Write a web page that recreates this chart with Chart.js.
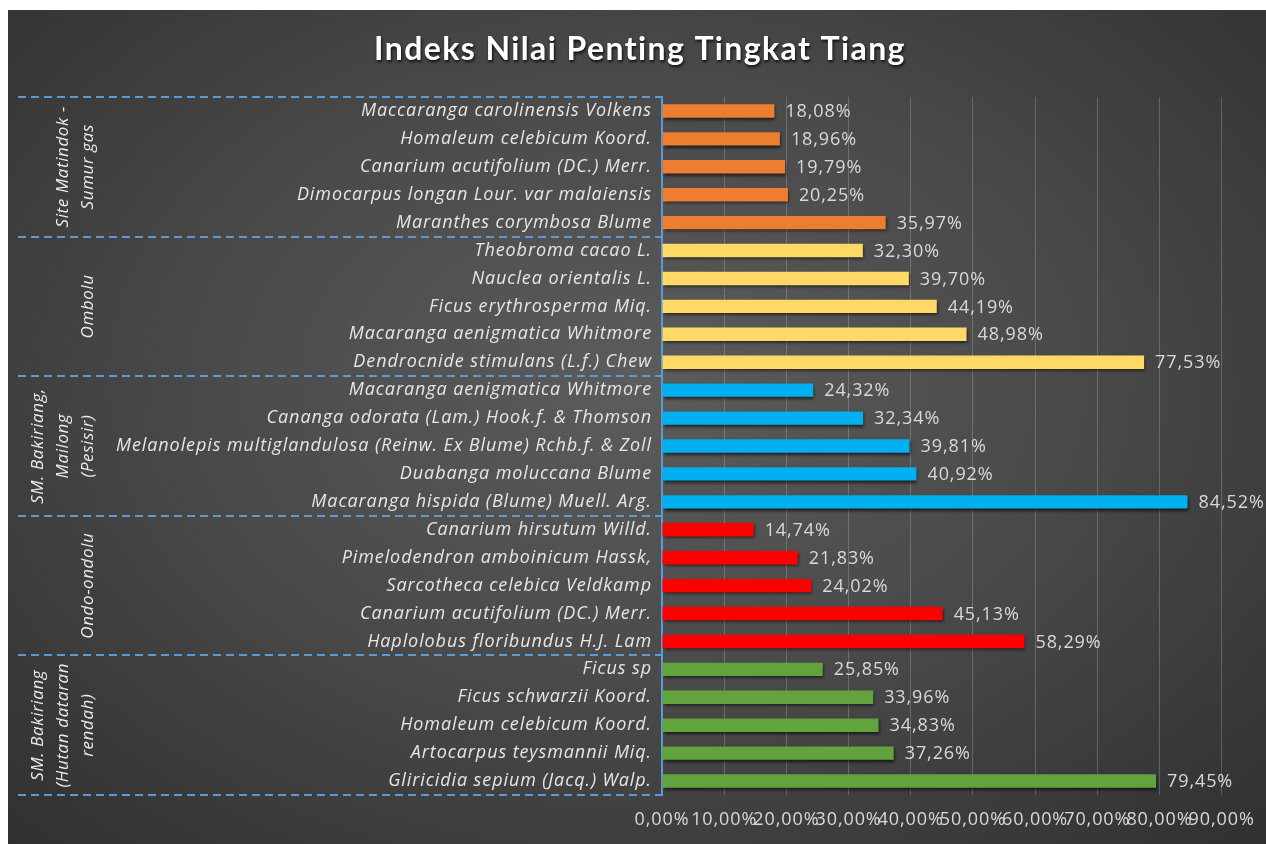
<!DOCTYPE html>
<html>
<head>
<meta charset="utf-8">
<script src="https://cdn.jsdelivr.net/npm/chart.js@4.4.1/dist/chart.umd.min.js"></script>
<style>
  html,body{margin:0;padding:0;background:#ffffff;width:1266px;height:844px;overflow:hidden;}
  #panel{position:absolute;left:8px;top:10px;width:1258px;height:834px;
    background: radial-gradient(ellipse 75% 80% at 50% 45%, #5c5c5c 0%, #4a4a4a 45%, #2e2e2e 100%);}
  canvas{display:block;}
</style>
</head>
<body>
<div id="panel"><canvas id="c" width="1258" height="834"></canvas></div>
<script>
// ---- data ----
const chartTitle = "Indeks Nilai Penting Tingkat Tiang";
const groupNames = [
  ["Site Matindok -", "Sumur gas"],
  ["Ombolu"],
  ["SM. Bakiriang,", "Mailong", "(Pesisir)"],
  ["Ondo-ondolu"],
  ["SM. Bakiriang", "(Hutan dataran", "rendah)"]
];
const groupColors = ["#ED7D31", "#FFD966", "#00B0F0", "#FF0000", "#63A33E"];

const speciesMatindok = ["Maccaranga carolinensis Volkens", "Homaleum celebicum Koord.", "Canarium acutifolium (DC.) Merr.", "Dimocarpus longan Lour. var malaiensis", "Maranthes corymbosa Blume"];
const valuesMatindok = [18.08, 18.96, 19.79, 20.25, 35.97];

const speciesOmbolu = ["Theobroma cacao L.", "Nauclea orientalis L.", "Ficus erythrosperma Miq.", "Macaranga aenigmatica Whitmore", "Dendrocnide stimulans (L.f.) Chew"];
const valuesOmbolu = [32.30, 39.70, 44.19, 48.98, 77.53];

const speciesPesisir = ["Macaranga aenigmatica Whitmore", "Cananga odorata (Lam.) Hook.f. & Thomson", "Melanolepis multiglandulosa (Reinw. Ex Blume) Rchb.f. & Zoll", "Duabanga moluccana Blume", "Macaranga hispida (Blume) Muell. Arg."];
const valuesPesisir = [24.32, 32.34, 39.81, 40.92, 84.52];

const speciesOndo = ["Canarium hirsutum Willd.", "Pimelodendron amboinicum Hassk,", "Sarcotheca celebica Veldkamp", "Canarium acutifolium (DC.) Merr.", "Haplolobus floribundus H.J. Lam"];
const valuesOndo = [14.74, 21.83, 24.02, 45.13, 58.29];

const speciesDataran = ["Ficus sp", "Ficus schwarzii Koord.", "Homaleum celebicum Koord.", "Artocarpus teysmannii Miq.", "Gliricidia sepium (Jacq.) Walp."];
const valuesDataran = [25.85, 33.96, 34.83, 37.26, 79.45];

const xTickMin = 0, xTickMax = 90, xTickStep = 10;

// ---- build ----
const speciesGroups = [speciesMatindok, speciesOmbolu, speciesPesisir, speciesOndo, speciesDataran];
const valueGroups = [valuesMatindok, valuesOmbolu, valuesPesisir, valuesOndo, valuesDataran];
const labels = [].concat(...speciesGroups);
const values = [].concat(...valueGroups);
const barColors = [];
const groupRanges = [];
let idx = 0;
speciesGroups.forEach((g, gi) => {
  groupRanges.push([idx, idx + g.length - 1]);
  g.forEach(() => barColors.push(groupColors[gi]));
  idx += g.length;
});

const fmt = v => v.toFixed(2).replace('.', ',') + '%';
const FONT = "'Open Sans', 'Noto Sans', sans-serif";
const DASH_COLOR = "#5B9BD5";
const SPACING = "0.9px";

const decorPlugin = {
  id: 'decor',
  beforeDraw(chart) {
    try { chart.ctx.letterSpacing = SPACING; } catch (e) {}
  },
  beforeDatasetsDraw(chart) {
    const ctx = chart.ctx;
    ctx.save();
    ctx.shadowColor = 'rgba(0,0,0,0.65)';
    ctx.shadowBlur = 3;
    ctx.shadowOffsetX = 1;
    ctx.shadowOffsetY = 2;
  },
  afterDatasetsDraw(chart) {
    const ctx = chart.ctx;
    ctx.restore();
    // value labels
    const meta = chart.getDatasetMeta(0);
    ctx.save();
    ctx.font = "18px " + FONT;
    ctx.fillStyle = "#d9d9d9";
    ctx.textAlign = 'left';
    ctx.textBaseline = 'middle';
    meta.data.forEach((el, i) => {
      ctx.fillText(fmt(values[i]), el.x + 11, el.y + 1);
    });
    ctx.restore();
  },
  afterDraw(chart) {
    const ctx = chart.ctx;
    const y = chart.scales.y;
    const area = chart.chartArea;
    const step = y.getPixelForValue(1) - y.getPixelForValue(0);
    // dashed group separators
    ctx.save();
    ctx.strokeStyle = DASH_COLOR;
    ctx.lineWidth = 2;
    ctx.setLineDash([8, 5]);
    const bounds = [];
    groupRanges.forEach(r => {
      bounds.push(y.getPixelForValue(r[0]) - step / 2);
    });
    bounds.push(y.getPixelForValue(groupRanges[groupRanges.length - 1][1]) + step / 2);
    bounds.forEach(b => {
      ctx.beginPath();
      ctx.moveTo(10, Math.round(b));
      ctx.lineTo(area.left, Math.round(b));
      ctx.stroke();
    });
    ctx.restore();
    // group labels (rotated)
    ctx.save();
    ctx.font = "italic 17px " + FONT;
    ctx.fillStyle = "#ececec";
    ctx.textAlign = 'center';
    ctx.textBaseline = 'middle';
    try { ctx.letterSpacing = "0.6px"; } catch (e) {}
    groupRanges.forEach((r, gi) => {
      const top = y.getPixelForValue(r[0]) - step / 2;
      const bot = y.getPixelForValue(r[1]) + step / 2;
      const cy = (top + bot) / 2;
      const lines = groupNames[gi];
      lines.forEach((ln, li) => {
        const cx = 80 - (lines.length - 1 - li) * 25;
        ctx.save();
        ctx.translate(cx, cy);
        ctx.rotate(-Math.PI / 2);
        ctx.fillText(ln, 0, 0);
        ctx.restore();
      });
    });
    ctx.restore();
    // title
    ctx.save();
    ctx.font = "bold 32px 'Lato', " + FONT;
    ctx.textAlign = 'center';
    ctx.textBaseline = 'middle';
    ctx.shadowColor = 'rgba(0,0,0,0.8)';
    ctx.shadowBlur = 3;
    ctx.shadowOffsetX = 1;
    ctx.shadowOffsetY = 2;
    ctx.fillStyle = "#ffffff";
    try { ctx.letterSpacing = "1.4px"; } catch (e) {}
    ctx.fillText(chartTitle, chart.width / 2 + 3, 40);
    ctx.restore();
  }
};

new Chart(document.getElementById('c'), {
  type: 'bar',
  data: {
    labels: labels,
    datasets: [{
      data: values,
      backgroundColor: barColors,
      borderWidth: 0,
      categoryPercentage: 1.0,
      barPercentage: 0.48
    }]
  },
  options: {
    indexAxis: 'y',
    responsive: false,
    animation: false,
    devicePixelRatio: 1,
    layout: { padding: { top: 87, right: 44, bottom: 0, left: 0 } },
    plugins: {
      legend: { display: false },
      tooltip: { enabled: false },
      title: { display: false }
    },
    scales: {
      x: {
        min: xTickMin,
        max: xTickMax,
        afterFit(scale) { scale.height = 49; },
        ticks: {
          stepSize: xTickStep,
          autoSkip: false,
          maxRotation: 0,
          minRotation: 0,
          padding: 14,
          color: "#d9d9d9",
          font: { family: FONT, size: 18 },
          callback: v => fmt(v)
        },
        grid: {
          drawTicks: false,
          color: c => (c.tick && c.tick.value === 0) ? 'rgba(0,0,0,0)' : 'rgba(255,255,255,0.2)',
          lineWidth: 1
        },
        border: { display: false }
      },
      y: {
        afterFit(scale) { scale.width = 654; },
        ticks: {
          padding: 10,
          autoSkip: false,
          color: "#e6e6e6",
          font: { family: FONT, size: 18, style: 'italic' }
        },
        grid: { display: false, drawTicks: false },
        border: { display: true, color: DASH_COLOR, width: 2, dash: [8, 5] }
      }
    }
  },
  plugins: [decorPlugin]
});
</script>
</body>
</html>
